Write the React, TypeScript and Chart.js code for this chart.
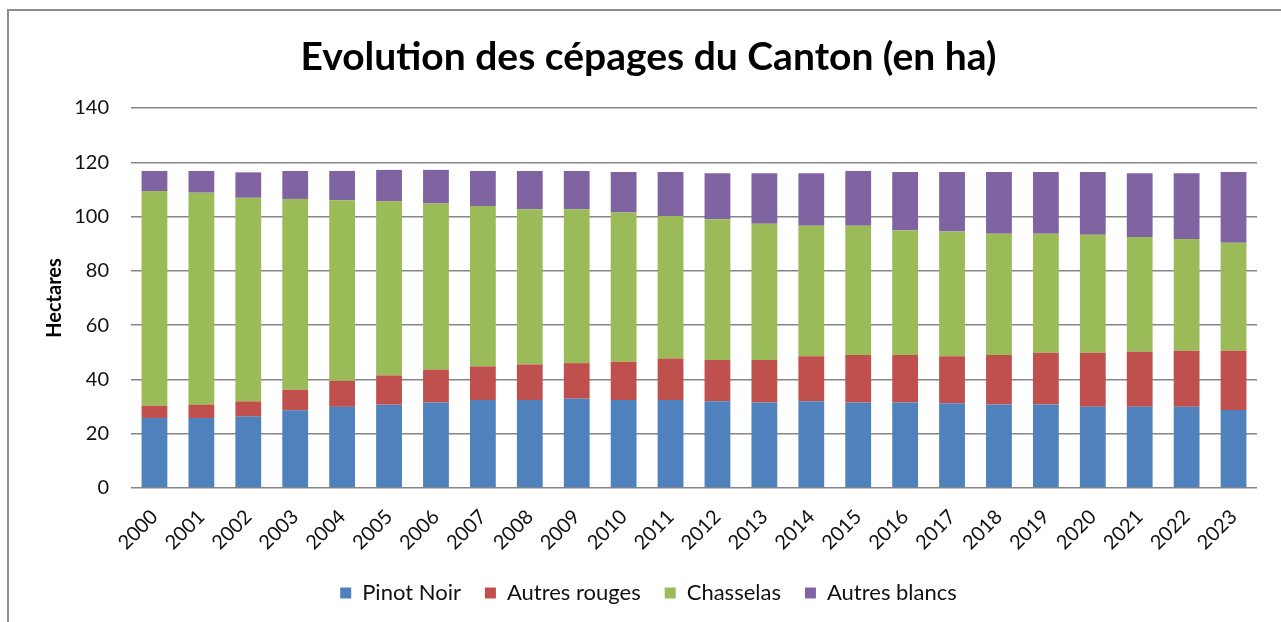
import React, { useEffect, useRef } from "react";
import { Chart, registerables } from "chart.js";

Chart.register(...registerables);

const TITLE = "Evolution des cépages du Canton (en ha)";
const Y_TITLE = "Hectares";

const years = [
  "2000", "2001", "2002", "2003", "2004", "2005", "2006", "2007", "2008", "2009", "2010", "2011",
  "2012", "2013", "2014", "2015", "2016", "2017", "2018", "2019", "2020", "2021", "2022", "2023",
];

const pinotNoir = [
  25.8, 25.8, 26.3, 28.6, 29.9, 30.7, 31.5, 32.4, 32.4, 32.9, 32.4, 32.4,
  32.0, 31.5, 32.0, 31.5, 31.5, 31.2, 30.8, 30.8, 29.9, 29.9, 29.9, 28.7,
];
const autresRouges = [
  4.5, 4.9, 5.6, 7.6, 9.6, 10.8, 12.1, 12.4, 13.1, 13.1, 14.1, 15.3,
  15.2, 15.7, 16.5, 17.5, 17.5, 17.3, 18.2, 19.0, 19.9, 20.3, 20.7, 21.9,
];
const chasselas = [
  79.1, 78.1, 75.0, 70.3, 66.5, 64.1, 61.2, 59.1, 57.2, 56.7, 55.0, 52.5,
  51.8, 50.2, 48.1, 47.6, 46.0, 46.0, 44.7, 43.9, 43.5, 42.3, 41.1, 39.8,
];
const autresBlancs = [
  7.4, 8.0, 9.4, 10.3, 10.8, 11.6, 12.4, 12.9, 14.1, 14.1, 14.9, 16.2,
  17.0, 18.6, 19.4, 20.2, 21.4, 21.9, 22.7, 22.7, 23.1, 23.5, 24.3, 26.0,
];

const seriesNames = ["Pinot Noir", "Autres rouges", "Chasselas", "Autres blancs"];
const seriesColors = ["#4F81BD", "#C0504D", "#9BBB59", "#8064A2"];

const FONT = "Lato, 'Open Sans', sans-serif";

export default function App() {
  const canvasRef = useRef<HTMLCanvasElement | null>(null);

  useEffect(() => {
    const canvas = canvasRef.current;
    if (!canvas) return;
    const seriesData = [pinotNoir, autresRouges, chasselas, autresBlancs];
    const chart = new Chart(canvas, {
      type: "bar",
      data: {
        labels: years,
        datasets: seriesNames.map((name, i) => ({
          label: name,
          data: seriesData[i],
          backgroundColor: seriesColors[i],
          borderWidth: 0,
          barPercentage: 0.55,
          categoryPercentage: 1.0,
        })),
      },
      options: {
        animation: false,
        responsive: false,
        maintainAspectRatio: false,
        devicePixelRatio: 1,
        layout: { padding: { left: 40, right: 24, top: 0, bottom: 8 } },
        plugins: {
          title: {
            display: true,
            text: TITLE,
            color: "#000",
            font: { family: FONT, size: 39, weight: "bold" },
            padding: { top: 33.6, bottom: 27.6 },
          },
          legend: {
            position: "bottom",
            labels: {
              boxWidth: 11,
              boxHeight: 11,
              padding: 24,
              color: "#111",
              font: { family: FONT, size: 22 },
            },
          },
          tooltip: { enabled: false },
        },
        scales: {
          x: {
            stacked: true,
            grid: { display: false },
            border: { display: false },
            ticks: {
              minRotation: 45,
              maxRotation: 45,
              autoSkip: false,
              padding: 9,
              color: "#111",
              font: { family: FONT, size: 20 },
            },
            afterFit: (s: any) => {
              s.height = 70;
            },
          },
          y: {
            stacked: true,
            min: 0,
            max: 140,
            ticks: {
              stepSize: 20,
              padding: 22,
              color: "#111",
              font: { family: FONT, size: 20 },
            },
            grid: { color: "#868686", lineWidth: 1.5, drawTicks: false },
            border: { display: false },
            title: {
              display: true,
              text: Y_TITLE,
              color: "#000",
              font: { family: FONT, size: 20, weight: "bold" },
              padding: { top: 3, bottom: 0 },
            },
            afterFit: (s: any) => {
              s.width = 91;
            },
          },
        },
      },
    });
    return () => chart.destroy();
  }, []);

  return (
    <div
      style={{
        position: "absolute",
        left: 0,
        top: 0,
        width: 1281,
        height: 622,
        overflow: "hidden",
        background: "#fff",
      }}
    >
      <div
        style={{
          position: "absolute",
          left: 7,
          top: 9,
          width: 1400,
          height: 800,
          border: "2px solid #8c8c8c",
        }}
      />
      <canvas
        ref={canvasRef}
        width={1281}
        height={622}
        style={{ position: "absolute", left: 0, top: 0, width: 1281, height: 622, display: "block" }}
      />
    </div>
  );
}
